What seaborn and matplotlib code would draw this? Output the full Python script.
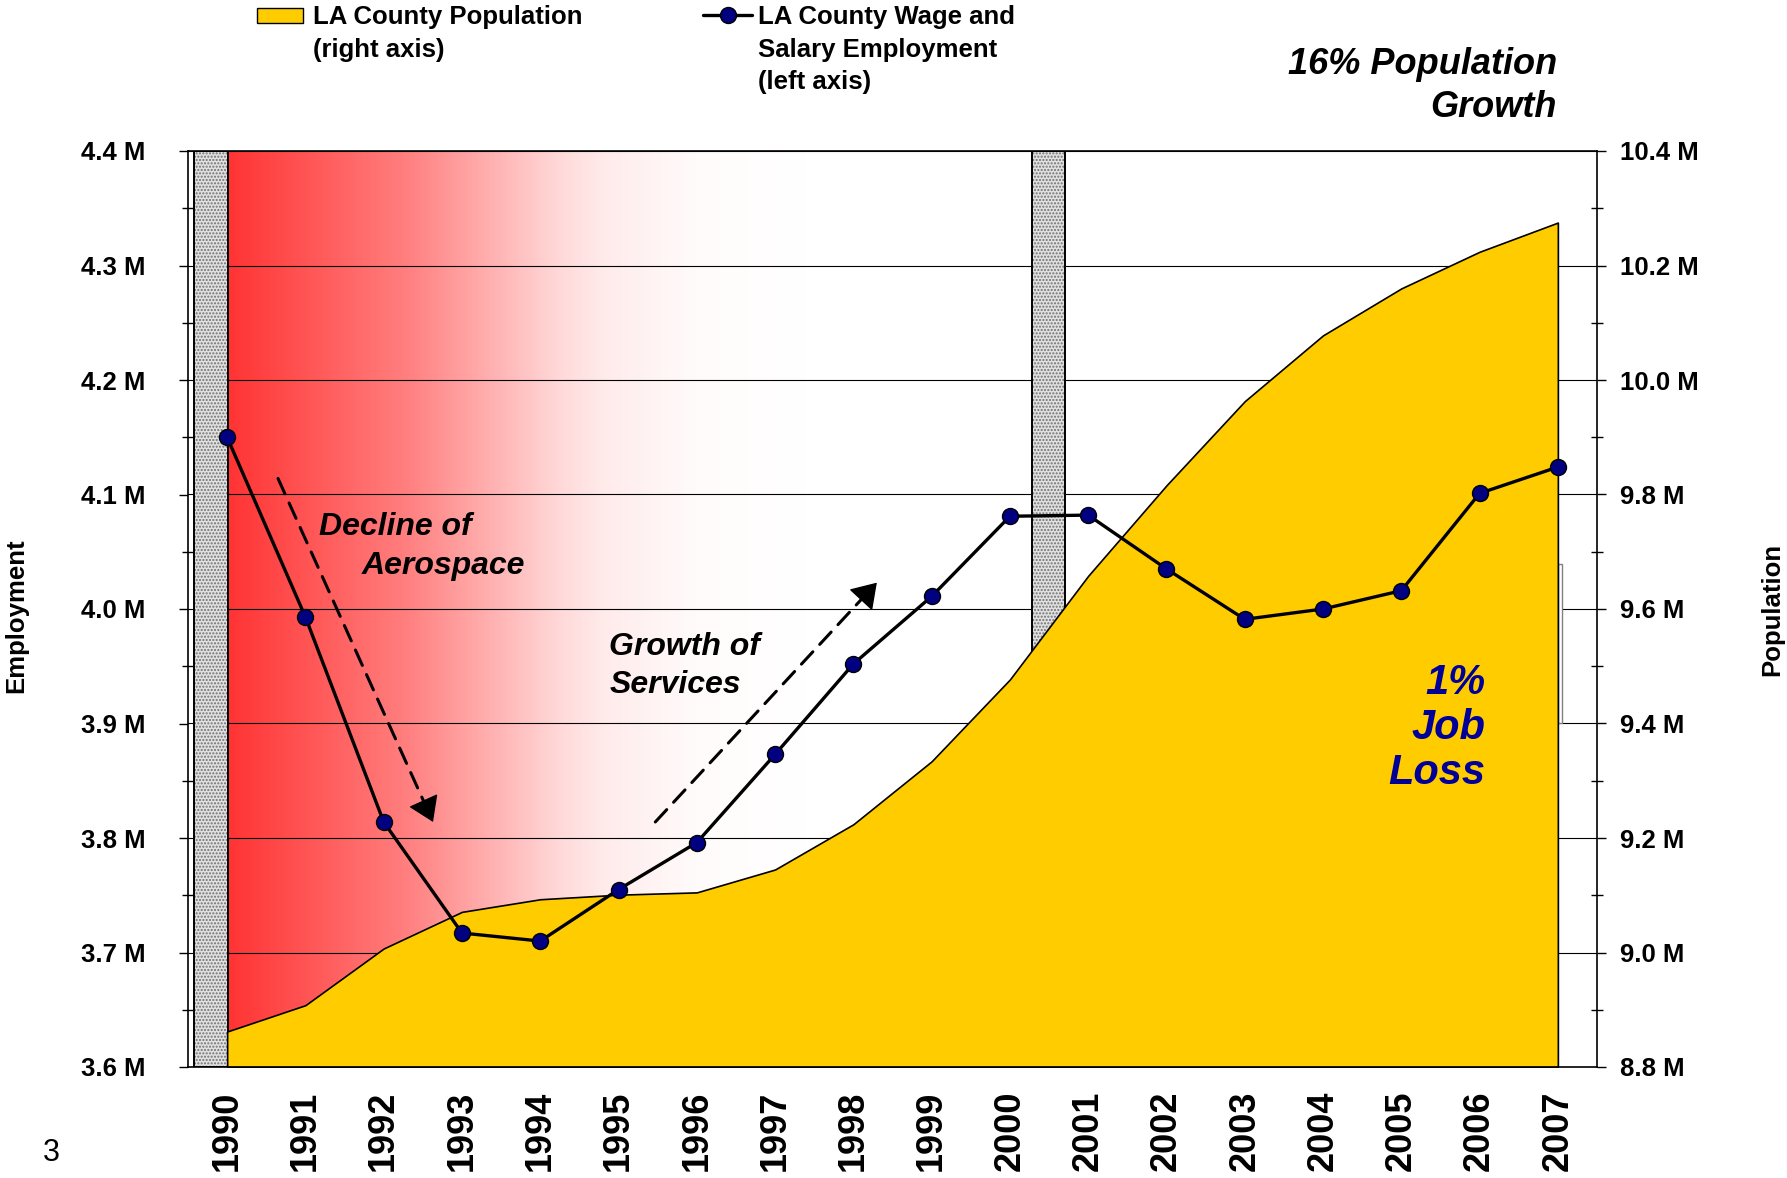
import numpy as np
import matplotlib
matplotlib.use('Agg')
import matplotlib.pyplot as plt
import seaborn as sns
from matplotlib.patches import Rectangle
from matplotlib.lines import Line2D
from matplotlib.ticker import FixedLocator, MultipleLocator, FuncFormatter

# values (millions)
years = list(range(1990, 2008))
employment = [4.150, 3.993, 3.814, 3.717, 3.710, 3.755, 3.796, 3.873, 3.952, 4.011,
              4.081, 4.082, 4.035, 3.991, 4.000, 4.016, 4.101, 4.124]
population = [8.862, 8.908, 9.007, 9.071, 9.093, 9.101, 9.105, 9.145, 9.224, 9.334,
              9.477, 9.658, 9.816, 9.963, 10.078, 10.160, 10.224, 10.275]
# shaded recession periods (in year units on the category axis)
recessions = [(1989.58, 1990.01), (2000.28, 2000.71)]

emp_ticks = [3.6, 3.7, 3.8, 3.9, 4.0, 4.1, 4.2, 4.3, 4.4]
pop_ticks = [8.8, 9.0, 9.2, 9.4, 9.6, 9.8, 10.0, 10.2, 10.4]

YELLOW = '#FFCC00'
NAVY = '#000080'
W, H = 1787, 1178

sns.set_style('white')
plt.rcParams['font.family'] = ['Liberation Sans', 'DejaVu Sans']
plt.rcParams.update({'text.color': 'black', 'axes.labelcolor': 'black',
                     'xtick.color': 'black', 'ytick.color': 'black',
                     'axes.edgecolor': 'black'})

fig = plt.figure(figsize=(W / 100, H / 100), dpi=100)
ax = fig.add_axes([188 / W, 1 - 1067 / H, 1409 / W, 916 / H])
ax2 = ax.twinx()

# red fade behind the early 90s (eases out towards white)
xs = np.linspace(1990.0, 1997.4, 400)
light = np.interp(xs, [1990.0, 1992.3, 1994.25, 1994.8, 1996.0, 1997.4],
                  [0.2, 0.5, 0.85, 0.92, 0.985, 1.0])
grad = np.ones((1, xs.size, 3))
grad[0, :, 1] = light
grad[0, :, 2] = light
ax.imshow(grad, extent=(xs[0], xs[-1], 8.8, 10.4), aspect='auto',
          interpolation='bilinear', zorder=0)

# recession bars
for x0, x1 in recessions:
    ax.axvspan(x0, x1, facecolor='#E0E0E0', edgecolor='#707070', hatch='.....',
               linewidth=0, zorder=1)
    ax.axvspan(x0, x1, facecolor='none', edgecolor='black', linewidth=1.4, zorder=1.1)

# population area (right axis)
ax.fill_between(years, pop_ticks[0], population, facecolor=YELLOW,
                edgecolor='black', linewidth=1.2, zorder=2)
ax.add_patch(Rectangle((2007.0, 9.4), 0.05, 0.278, facecolor='white',
                       edgecolor='#808080', linewidth=1, zorder=1.5))

# employment line (left axis)
sns.lineplot(x=years, y=employment, ax=ax2, color='black', linewidth=2.4,
             marker='o', markersize=11.5, markerfacecolor=NAVY,
             markeredgecolor='black', markeredgewidth=1, zorder=5)

ax.set_xlim(1989.5, 2007.5)
ax.set_ylim(pop_ticks[0], pop_ticks[-1])
ax2.set_ylim(emp_ticks[0], emp_ticks[-1])

# x axis: labels at the years, tick marks between them
ax.xaxis.set_major_locator(FixedLocator(years))
ax.xaxis.set_minor_locator(FixedLocator([y - 0.5 for y in years] + [years[-1] + 0.5]))
ax.set_xticklabels([str(y) for y in years], rotation=90, fontsize=26,
                   fontweight='bold')
ax.tick_params(axis='x', which='major', length=0, pad=17)
ax.tick_params(axis='x', which='minor', length=6, width=1, direction='out')

# right axis: population
ax.yaxis.tick_right()
ax.yaxis.set_label_position('right')
ax.yaxis.set_major_locator(FixedLocator(pop_ticks))
ax.yaxis.set_minor_locator(MultipleLocator(0.1))
ax.yaxis.set_major_formatter(FuncFormatter(lambda v, p: f'{v:.1f} M'))
ax.tick_params(axis='y', which='major', direction='out', length=6.7, width=1,
               pad=10, labelsize=18.5)
ax.tick_params(axis='y', which='minor', direction='inout', length=9, width=1)
for lab in ax.get_yticklabels():
    lab.set_fontweight('bold')
ax.set_ylabel('Population', fontsize=18.5, fontweight='bold')
ax.yaxis.set_label_coords(1.1242, 0.5)
ax.yaxis.label.set_va('center')

# left axis: employment
ax2.yaxis.tick_left()
ax2.yaxis.set_label_position('left')
ax2.yaxis.set_major_locator(FixedLocator(emp_ticks))
ax2.yaxis.set_minor_locator(MultipleLocator(0.05))
ax2.yaxis.set_major_formatter(FuncFormatter(lambda v, p: f'{v:.1f} M'))
ax2.tick_params(axis='y', which='major', direction='out', length=6.5, width=1,
                pad=24, labelsize=18.5)
ax2.tick_params(axis='y', which='minor', direction='inout', length=8, width=1)
for lab in ax2.get_yticklabels():
    lab.set_fontweight('bold')
ax2.set_ylabel('Employment', fontsize=18.5, fontweight='bold')
ax2.yaxis.set_label_coords(-0.1221, 0.4924)
ax2.yaxis.label.set_va('center')
ax2.set_xlabel('')

ax.grid(axis='y', which='major', color='black', linewidth=0.8)
ax.grid(axis='x', visible=False)
ax.set_axisbelow(True)
for sp in ax.spines.values():
    sp.set_color('black')
    sp.set_linewidth(1.2)
for sp in ax2.spines.values():
    sp.set_visible(False)


def trend_arrow(axis, start, tip):
    # dashed shaft plus a solid head so the triangle stays clean
    axis.annotate('', xy=tip, xytext=start,
                  arrowprops=dict(arrowstyle='-', color='black', lw=2.2,
                                  linestyle=(0, (5.5, 3.3)), shrinkA=0, shrinkB=12))
    near = (start[0] + 0.97 * (tip[0] - start[0]), start[1] + 0.97 * (tip[1] - start[1]))
    axis.annotate('', xy=tip, xytext=near,
                  arrowprops=dict(arrowstyle='-|>,head_length=1.3,head_width=0.85',
                                  mutation_scale=12, color='black', lw=1,
                                  shrinkA=0, shrinkB=0))


trend_arrow(ax2, (1990.65, 4.114), (1992.63, 3.814))
trend_arrow(ax2, (1995.47, 3.814), (1998.30, 4.023))

note_kw = dict(fontsize=23, fontweight='bold', fontstyle='italic', color='black',
               va='center', zorder=6)
ax2.text(1991.17, 4.072, 'Decline of', ha='left', **note_kw)
ax2.text(1991.72, 4.0376, 'Aerospace', ha='left', **note_kw)
ax2.text(1994.88, 3.950, 'Growth of\nServices', ha='left', linespacing=1.35, **note_kw)
ax2.text(2006.07, 3.896, '1%\nJob\nLoss', ha='right', multialignment='right',
         fontsize=30, fontweight='bold', fontstyle='italic', color='#000099',
         va='center', linespacing=1.16, zorder=6)

fig.text(1557 / W, 1 - 86 / H, '16% Population\nGrowth', ha='right', va='center',
         multialignment='right', fontsize=26, fontweight='bold', fontstyle='italic',
         linespacing=1.26)

# legend drawn at the top
fig.add_artist(Rectangle((257 / W, 1 - 23 / H), 46 / W, 15 / H, transform=fig.transFigure,
                         facecolor=YELLOW, edgecolor='black', linewidth=1))
fig.text(313 / W, 1 - 5 / H, 'LA County Population\n(right axis)', ha='left', va='top',
         fontsize=18.5, fontweight='bold', linespacing=1.45)
fig.add_artist(Line2D([703 / W, 752 / W], [1 - 15 / H] * 2, transform=fig.transFigure,
                      color='black', linewidth=2.4))
fig.add_artist(Line2D([728 / W], [1 - 15 / H], transform=fig.transFigure, marker='o',
                      markersize=11.5, markerfacecolor=NAVY, markeredgecolor='black'))
fig.text(758 / W, 1 - 5 / H, 'LA County Wage and\nSalary Employment\n(left axis)',
         ha='left', va='top', fontsize=18.5, fontweight='bold', linespacing=1.45)

fig.text(51 / W, 1 - 1153 / H, '3', ha='center', va='center', fontsize=22)

fig.savefig('out.png', dpi=100)
